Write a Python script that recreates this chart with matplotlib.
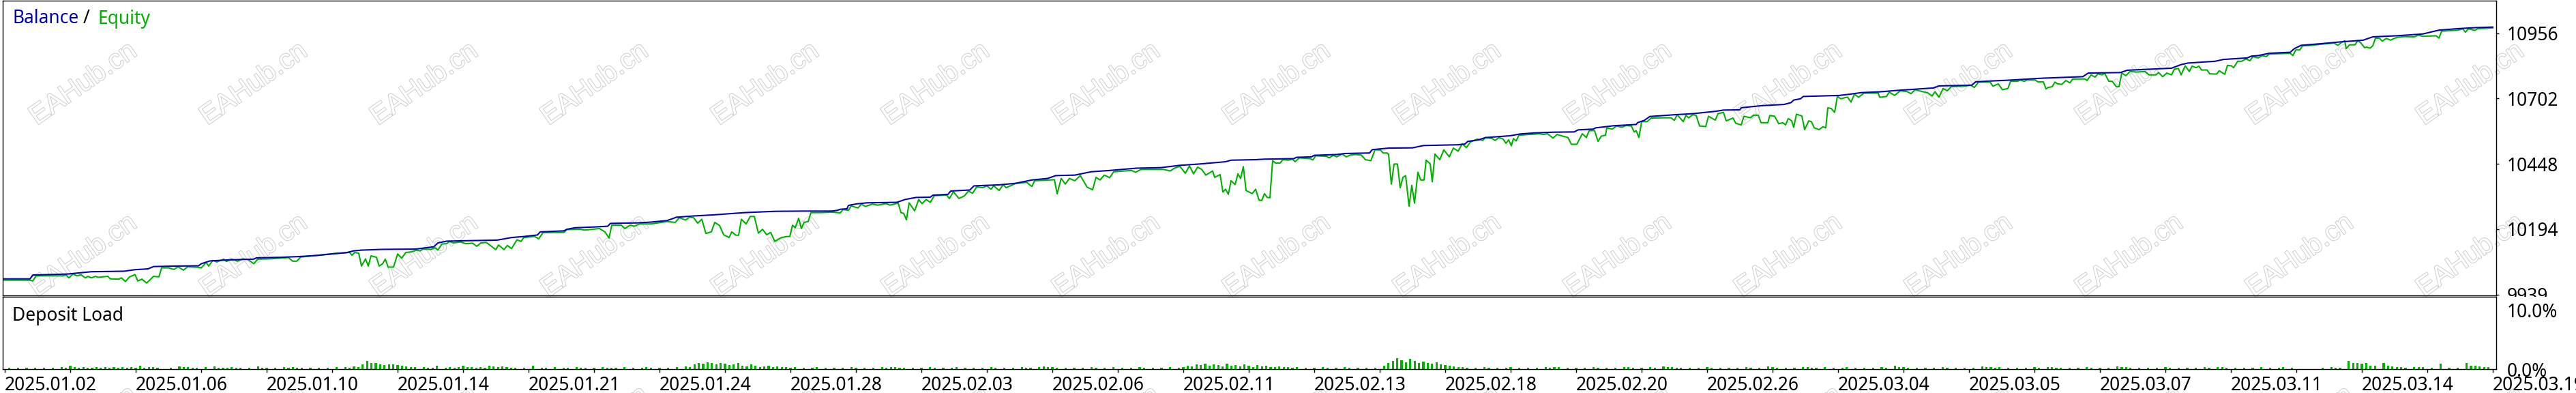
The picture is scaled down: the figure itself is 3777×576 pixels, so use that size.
import numpy as np
import matplotlib
matplotlib.use("Agg")
import matplotlib.pyplot as plt
import matplotlib.patheffects as pe
from matplotlib.transforms import Bbox, TransformedBbox

# balance curve (x = chart step, value = account currency)
bal_x = [2, 40, 44, 95, 130, 178, 194, 213, 221, 253, 287, 291, 304, 332, 368, 372, 407, 435, 459, 482, 506, 514, 526, 557, 605,
         632, 638, 651, 725, 746, 764, 784, 788, 823, 827, 839, 867, 887, 891, 930, 950, 974, 988, 1013, 1041, 1088, 1132, 1175, 1216,
         1224, 1228, 1238, 1240, 1252, 1267, 1311, 1323, 1339, 1360, 1364, 1386, 1390, 1418, 1424, 1461, 1485, 1509, 1532, 1544, 1572,
         1596, 1623, 1663, 1698, 1726, 1754, 1793, 1801,
         1836, 1850, 1893, 1897, 1919, 1923, 1956, 1968, 2004, 2008, 2032, 2067, 2083, 2134, 2144, 2148, 2164, 2174, 2210, 2225, 2245,
         2273, 2304, 2310, 2332, 2336, 2362, 2395, 2397, 2407, 2415,
         2452, 2478, 2511, 2523, 2547, 2549, 2578, 2612, 2622, 2626, 2636, 2640, 2693, 2709, 2725, 2752, 2780, 2831, 2839, 2887, 2893,
         2914, 2946, 2990, 3029, 3050,
         3056, 3058, 3105, 3115, 3180, 3188, 3194, 3204, 3244, 3256, 3291, 3297, 3307, 3323, 3354, 3360, 3370, 3402, 3426, 3461, 3475,
         3509, 3548, 3572, 3600, 3627, 3651]
bal_v = [10000, 10000, 10015, 10019, 10028, 10030, 10036, 10039, 10048, 10050, 10051, 10059, 10070, 10074, 10077, 10082, 10084,
         10087, 10091, 10097, 10103, 10109, 10112, 10115, 10116,
         10125, 10140, 10147, 10151, 10161, 10165, 10171, 10183, 10187, 10193, 10199, 10202, 10205, 10216, 10218, 10221, 10227, 10240,
         10245, 10249, 10258, 10263, 10264, 10264,
         10267, 10271, 10273, 10286, 10292, 10296, 10298, 10309, 10317, 10318, 10326, 10329, 10342, 10346, 10362, 10366, 10372, 10385,
         10391, 10402, 10404, 10417, 10422, 10431, 10433, 10442, 10447, 10456, 10462,
         10464, 10466, 10468, 10473, 10475, 10481, 10484, 10488, 10490, 10503, 10509, 10510, 10519, 10522, 10525, 10535, 10541, 10550,
         10557, 10564, 10568, 10571, 10572, 10580, 10583, 10588, 10596, 10601, 10608, 10617, 10632,
         10639, 10643, 10652, 10657, 10658, 10666, 10674, 10679, 10686, 10696, 10701, 10710, 10714, 10719, 10725, 10728, 10734, 10743,
         10751, 10754, 10767, 10770, 10774, 10781, 10785, 10787,
         10798, 10801, 10803, 10812, 10820, 10828, 10834, 10840, 10847, 10854, 10860, 10867, 10869, 10878, 10882, 10896, 10909, 10916,
         10922, 10929, 10942, 10946, 10953, 10968, 10974, 10978, 10980]

# equity curve
eq_x = [2, 40, 44, 49, 87, 93, 97, 103, 109, 115, 121, 125, 130, 136, 140, 146, 154, 158, 170, 174, 180, 186, 194, 198, 204,
        211, 217, 221, 229, 233, 243, 251, 257, 265, 271, 287, 291, 295, 298, 302, 308, 314, 324, 328, 336, 344, 352, 360, 368,
        374, 391, 407, 419, 425, 431, 437, 455, 470, 486, 502, 508, 512, 516, 522, 526, 532, 536, 540, 548, 552, 557, 561, 565,
        573, 579, 585, 591, 599, 607,
        612, 616, 628, 634, 638, 644, 651, 655, 661, 671, 679, 689, 695, 701, 709, 715, 723, 727, 735, 740, 746, 754, 760, 764,
        780, 786, 792, 823, 827, 847, 853, 875, 883, 889, 893, 907, 912, 920, 926, 934, 950, 974, 986, 992, 1001, 1007, 1013,
        1019, 1025, 1031, 1039, 1044, 1051, 1057, 1065, 1069, 1075, 1079, 1083, 1090, 1096, 1102, 1108, 1114, 1120, 1126, 1132,
        1142, 1150, 1154, 1158, 1162, 1167, 1171, 1175, 1181, 1185, 1199, 1216,
        1228, 1232, 1240, 1244, 1254, 1259, 1265, 1275, 1283, 1295, 1301, 1313, 1317, 1321, 1325, 1329, 1337, 1343, 1348, 1354,
        1360, 1366, 1384, 1388, 1394, 1402, 1410, 1416, 1422, 1428, 1437, 1443, 1449, 1453, 1461, 1467, 1471, 1485, 1501, 1509,
        1513, 1542, 1546, 1552, 1558, 1564, 1572, 1580, 1590, 1598, 1603, 1609, 1615, 1623, 1629, 1655, 1661, 1669, 1702, 1712,
        1718, 1726, 1734, 1740, 1746, 1752, 1758, 1764, 1774, 1777, 1785, 1789, 1793, 1797, 1801, 1807, 1811, 1815, 1819, 1823,
        1832, 1837, 1842, 1846, 1850, 1854, 1858, 1862, 1866, 1873, 1877, 1885, 1891, 1895, 1901, 1917, 1921, 1925, 1941, 1945,
        1951, 1956, 1964, 1970, 1976, 1984, 1992, 1998, 2006, 2012, 2020, 2024, 2030, 2032, 2036, 2040, 2045, 2049, 2053, 2057,
        2062, 2066, 2070, 2075, 2079, 2084, 2087, 2093, 2096, 2100, 2107, 2113, 2121, 2127, 2134, 2140, 2146, 2152, 2162, 2170,
        2174, 2184, 2188, 2194, 2200, 2204, 2208, 2212, 2215, 2219, 2223, 2237, 2245, 2253, 2259, 2265, 2273, 2279, 2287, 2295,
        2300, 2308, 2316, 2322, 2326, 2334, 2339, 2344, 2350, 2352, 2360, 2366, 2374, 2380, 2388, 2392, 2395, 2399, 2403, 2411,
        2417, 2436,
        2446, 2451, 2455, 2464, 2468, 2472, 2478, 2483, 2488, 2497, 2501, 2511, 2515, 2523, 2527, 2537, 2541, 2549, 2553, 2563,
        2567, 2574, 2578, 2588, 2591, 2598, 2604, 2610, 2614, 2618, 2623, 2626, 2630, 2638, 2642, 2648, 2652, 2656, 2663, 2669,
        2673, 2676, 2681, 2686, 2690, 2695, 2701, 2705, 2710, 2715, 2721, 2729, 2750, 2752, 2762, 2766, 2774, 2782, 2792, 2798,
        2804, 2816, 2822, 2829, 2833, 2839, 2845, 2851, 2857, 2879, 2885, 2891, 2897, 2914, 2918, 2926, 2932, 2940, 2944, 2954,
        2958, 2964, 2968, 2980, 2984, 2992, 2996, 2999, 3005, 3009, 3013, 3019, 3025, 3031, 3035, 3053,
        3056, 3062, 3068, 3072, 3078, 3082, 3088, 3093, 3099, 3103, 3107, 3113, 3119, 3129, 3141, 3147, 3157, 3161, 3167, 3173,
        3180, 3184, 3190, 3194, 3200, 3206, 3210, 3216, 3220, 3224, 3232, 3236, 3246, 3250, 3258, 3262, 3268, 3271, 3277, 3283,
        3289, 3295, 3299, 3307, 3313, 3319, 3323, 3354, 3358, 3362, 3368, 3372, 3386, 3398, 3410, 3418, 3424, 3428, 3434, 3436,
        3441, 3449, 3453, 3457, 3463, 3466, 3471, 3475, 3479, 3485, 3489, 3495, 3501, 3505, 3511, 3521, 3536, 3542, 3548, 3568,
        3572, 3576, 3600, 3607, 3611, 3615, 3619, 3625, 3629, 3639, 3651]
eq_v = [9995, 9995, 9992, 10012, 10012, 10015, 10004, 10019, 10012, 10016, 10004, 10010, 10004, 10010, 10006, 10008, 10010,
        10000, 9999, 10004, 9990, 10008, 10017, 9992, 9999, 9984, 9999, 10010, 10008, 10043, 10043, 10037, 10047, 10034, 10047,
        10045, 10043, 10054, 10065, 10050, 10072, 10066, 10077, 10068, 10077, 10069, 10078, 10075, 10059, 10077, 10078, 10081,
        10083, 10069, 10069, 10085, 10090, 10094, 10099, 10101, 10105, 10092, 10103, 10100, 10050, 10078, 10050, 10090, 10084,
        10050, 10059, 10077, 10046, 10046, 10097, 10081, 10103, 10105, 10112,
        10109, 10116, 10115, 10121, 10112, 10136, 10137, 10146, 10140, 10144, 10137, 10139, 10127, 10140, 10142, 10130, 10114,
        10132, 10114, 10130, 10118, 10152, 10146, 10161, 10165, 10156, 10180, 10181, 10192, 10193, 10190, 10196, 10183, 10159,
        10209, 10209, 10196, 10209, 10205, 10214, 10214, 10223, 10220, 10238, 10229, 10240, 10238, 10217, 10232, 10177, 10183,
        10220, 10208, 10172, 10161, 10183, 10170, 10170, 10232, 10214, 10243, 10243, 10178, 10193, 10172, 10181, 10146, 10161,
        10165, 10165, 10209, 10199, 10236, 10196, 10220, 10223, 10258, 10258, 10260,
        10257, 10270, 10267, 10284, 10276, 10291, 10282, 10291, 10287, 10293, 10287, 10295, 10258, 10255, 10230, 10296, 10265,
        10309, 10293, 10309, 10298, 10324, 10326, 10313, 10339, 10313, 10323, 10342, 10333, 10358, 10355, 10362, 10349, 10362,
        10344, 10367, 10355, 10371, 10376, 10360, 10382, 10386, 10331, 10391, 10369, 10391, 10382, 10402, 10357, 10347, 10395,
        10385, 10404, 10394, 10417, 10422, 10415, 10426, 10426, 10420, 10431, 10438, 10411, 10440, 10409, 10435, 10426, 10404,
        10420, 10395, 10406, 10338, 10349, 10329, 10382, 10367, 10409, 10391, 10437, 10344,
        10332, 10349, 10307, 10305, 10332, 10317, 10316, 10460, 10451, 10451, 10464, 10462, 10466, 10456, 10471, 10468, 10463,
        10479, 10477, 10471, 10481, 10475, 10486, 10475, 10482, 10484, 10482, 10464, 10460, 10502, 10502, 10490, 10490, 10484,
        10369, 10447, 10447, 10355, 10395, 10402, 10283, 10364, 10295, 10415, 10385, 10385, 10462, 10448, 10378, 10486, 10464,
        10502, 10475, 10509, 10497, 10526, 10511, 10533, 10544, 10539, 10550, 10546, 10539, 10550, 10544, 10528, 10541, 10518,
        10546, 10537, 10559, 10562, 10563, 10565, 10562, 10565, 10548, 10562, 10556, 10550, 10524, 10524, 10565, 10550, 10577,
        10577, 10535, 10556, 10559, 10588, 10583, 10595, 10590, 10597, 10595, 10572, 10577, 10550, 10612, 10612, 10626, 10627,
        10627, 10617, 10639, 10612, 10636, 10627, 10639, 10636, 10595, 10593, 10633, 10618, 10643, 10648, 10615, 10626, 10606,
        10599, 10633, 10627, 10637, 10637, 10608, 10608, 10636, 10633, 10604, 10608, 10599, 10624, 10615, 10590, 10641, 10634,
        10581, 10615, 10612, 10588, 10581, 10592, 10588, 10666, 10663, 10648, 10710, 10701, 10705, 10707, 10688, 10719, 10707,
        10723, 10723, 10707, 10710, 10727, 10714, 10732, 10729, 10721, 10736, 10728, 10725, 10712, 10728, 10707, 10741, 10732,
        10748, 10751, 10754, 10745, 10766, 10766, 10750, 10759, 10736, 10741, 10769, 10769, 10774, 10769, 10774, 10774, 10767,
        10767, 10739, 10745, 10748, 10766, 10759, 10757, 10772, 10763, 10778, 10778,
        10772, 10794, 10785, 10798, 10794, 10800, 10769, 10769, 10748, 10748, 10801, 10791, 10807, 10805, 10807, 10794, 10794,
        10803, 10787, 10801, 10794, 10816, 10819, 10794, 10829, 10807, 10828, 10822, 10828, 10813, 10813, 10798, 10797, 10810,
        10796, 10831, 10829, 10822, 10847, 10847, 10856, 10849, 10865, 10860, 10869, 10865, 10875, 10878, 10869, 10891, 10891,
        10907, 10909, 10913, 10916, 10918, 10909, 10918, 10927, 10896, 10911, 10911, 10927, 10920, 10900, 10902, 10898, 10907,
        10937, 10936, 10925, 10936, 10929, 10934, 10940, 10943, 10942, 10949, 10944, 10946, 10937, 10964, 10968, 10973, 10960,
        10973, 10971, 10967, 10974, 10975, 10977]

# deposit load, percent per slot
load_pct = [
    0, 0.2, 0, 0.2, 0, 0.2, 0, 0.2, 0, 0.2, 0, 0.2, 0, 0.3, 0.2, 0.6, 0.4, 0.2, 0.3, 0.2, 0.2, 0.3, 0.2, 0.3, 0.2,
    0.3, 0.2, 0.3, 0.2, 0.4, 0.2, 0.6, 0.2, 0.4, 0.3, 0.2, 0, 0, 0.2, 0, 0.5, 0.4, 0.4, 0.2, 0.2, 0, 0.3, 0, 0.5, 0.2,
    0.2, 0.2, 0.3, 0.2, 0.2, 0, 0.2, 0, 0.5, 0.2, 0.2, 0, 0.2, 0, 0.3, 0.2, 0.3, 0.2, 0.2, 0, 0.2, 0, 0.2, 0, 0.2,
    0, 0.3, 0, 0.3, 0.2, 0.5, 0.3, 0.8, 1.4, 1.0, 1.0, 0.8, 0.7, 0.8, 0.8, 0.7, 0.6, 0.5, 0.4, 0.3, 0, 0.3, 0.2, 0.2, 0.6,
    0, 0.2, 0.3, 0.2, 0.3, 0.6, 0.4, 0.3, 0.2, 0.3, 0.2, 0.6, 0.5, 0.4, 0.5, 0.3, 0.2, 0.2, 0, 0.2, 0, 0.6, 0, 0.2, 0.2,
    0, 0.3, 0, 0.2, 0.2, 0, 0.4, 0.2, 0.2, 0, 0.2, 0, 0.3, 0.2, 0.2, 0.2, 0, 0.3, 0, 0.2, 0, 0.2, 0.3, 0.2, 0,
    0.2, 0, 0.2, 0, 0.3, 0, 0.5, 0.4, 0.8, 1.0, 0.9, 1.2, 1.0, 0.8, 1.1, 0.9, 0.7, 0.8, 1.0, 0.6, 0.5, 0.8, 0.6, 0.4, 0.5,
    0.6, 0.4, 0.5, 0.3, 0.4, 0.2, 0.3, 0, 0.2, 0, 0.2, 0.3, 0, 0.2, 0, 0.2, 0, 0.2, 0, 0.3, 0.2, 0, 0.2, 0, 0.2,
    0, 0.3, 0.2, 0.4, 0.3, 0.2, 0.2, 0, 0.2, 0, 0.2, 0, 0.3, 0.2, 0, 0.2, 0, 0.2, 0.3, 0, 0.2, 0, 0.2, 0, 0.2,
    0, 0.3, 0.2, 0, 0.2, 0, 0.2, 0, 0.3, 0.2, 0.2, 0, 0.3, 0.5, 0.4, 0.3, 0.2, 0, 0.2, 0, 0.2, 0, 0.2, 0, 0.3,
    0.2, 0, 0.2, 0, 0.3, 0, 0.2, 0, 0.2, 0, 0.3, 0.2, 0, 0.2, 0, 0.2, 0, 0.3, 0, 0.2, 0.4, 0.6, 0.5, 0.8, 0.7,
    0.9, 0.6, 0.8, 0.7, 0.5, 0.9, 0.6, 0.7, 0.5, 0.8, 0.6, 0.4, 0.7, 0.5, 0.6, 0.4, 0.3, 0.5, 0.4, 0.3, 0.2, 0.3, 0, 0.2, 0,
    0.2, 0, 0.3, 0.2, 0, 0.2, 0, 0.3, 0.2, 0, 0.2, 0, 0.2, 0, 0.2, 0, 0.6, 1.0, 1.4, 1.8, 1.5, 1.2, 1.7, 1.4, 1.1,
    1.3, 1.0, 0.9, 1.2, 0.8, 0.7, 0.6, 0.5, 0.4, 0.3, 0.2, 0, 0.2, 0, 0.3, 0.2, 0, 0.2, 0, 0.2, 0.3, 0, 0.2, 0, 0.2,
    0, 0.2, 0, 0.3, 0.2, 0.4, 0.3, 0, 0.2, 0, 0.2, 0, 0.2, 0, 0.3, 0.2, 0, 0.2, 0, 0.2, 0, 0.4, 0.3, 0.2, 0,
    0.2, 0, 0.3, 0.2, 0, 0.5, 0.4, 0.3, 0.2, 0.2, 0, 0.2, 0, 0.2, 0, 0.3, 0.2, 0, 0.2, 0, 0.2, 0, 0.2, 0, 0.3,
    0.2, 0, 0.2, 0, 0.5, 0.3, 0.2, 0, 0.2, 0, 0.2, 0, 0.4, 0.3, 0.2, 0.2, 0, 0.3, 0, 0.2, 0, 0.2, 0.3, 0, 0.2,
    0, 0.2, 0, 0.2, 0, 0.3, 0.2, 0, 0.6, 0.4, 0.3, 0.2, 0, 0.2, 0, 0.2, 0, 0.2, 0, 0.3, 0.2, 0, 0.2, 0, 0.2,
    0, 0.2, 0, 0.5, 0.4, 0.3, 0.2, 0.3, 0, 0.2, 0, 0.2, 0, 0.2, 0, 0.3, 0.2, 0, 0.4, 0.3, 0.2, 0.2, 0, 0.2, 0,
    0.2, 0, 0.3, 0.2, 0, 0.2, 0, 0.2, 0, 0.5, 0.4, 0.3, 0.2, 0, 0.2, 0, 0.2, 0, 0.2, 0, 0.3, 0.2, 0, 0.2, 0,
    0.2, 0, 0.2, 0, 0.3, 0.2, 0, 0.4, 0.3, 0.2, 0, 0.2, 0, 0.2, 0, 0.2, 0, 0.3, 0, 0.2, 0, 0.2, 0.3, 0, 0.2,
    0, 0, 0, 0, 0, 0, 0.2, 0, 0.3, 0.2, 0.2, 0, 1.4, 1.0, 1.0, 0.9, 1.0, 0.6, 0.6, 0, 1.0, 0.6, 0.5, 0.3, 0.3,
    0.2, 0, 0.4, 0.3, 0.3, 0, 0.2, 0, 0.9, 0, 0.2, 0, 0.2, 0, 1.0, 0.6, 0.6, 0.5, 0.3, 0.3, 0,
]

bal_ticks = [9939, 10194, 10448, 10702, 10956]
date_labels = ['2025.01.02', '2025.01.06', '2025.01.10', '2025.01.14', '2025.01.21', '2025.01.24', '2025.01.28',
               '2025.02.03', '2025.02.06', '2025.02.11', '2025.02.13', '2025.02.18', '2025.02.20', '2025.02.26',
               '2025.03.04', '2025.03.05', '2025.03.07', '2025.03.11', '2025.03.14', '2025.03.19']

W, H = 3777, 576
BLUE = '#0000B4'
GREEN = '#00B000'
FS = 19

plt.rcParams['font.family'] = ['Noto Sans', 'DejaVu Sans']
plt.rcParams['font.size'] = FS

fig = plt.figure(figsize=(W / 100, H / 100), dpi=100)


def box(left, top, right, bottom):
    return [left / W, 1 - bottom / H, (right - left) / W, (bottom - top) / H]


# watermark behind everything
for row_y in (123, 375, 627):
    for k in range(-1, 16):
        fig.text((122 + 250 * k) / W, 1 - row_y / H, 'EAHub.cn', rotation=35, rotation_mode='anchor',
                 ha='center', va='center', fontsize=29, family='Liberation Sans', color='white', zorder=-1,
                 path_effects=[pe.withStroke(linewidth=1.4, foreground='#CDCDCD')])

ax = fig.add_axes(box(4, 0.7, 3660, 433))
ax2 = fig.add_axes(box(4, 435, 3660, 541))
for a in (ax, ax2):
    a.set_facecolor('none')
    for s in a.spines.values():
        s.set_linewidth(1.0)
    a.set_xlim(0, 3656)

# Balance / Equity
ax.plot(eq_x, eq_v, color=GREEN, lw=1.5)
ax.plot(bal_x, bal_v, color=BLUE, lw=1.5)
ax.set_ylim(9935.7, 11083.5)
ax.set_xticks([])
ax.yaxis.tick_right()
ax.set_yticks(bal_ticks)
ax.set_yticklabels([str(v) for v in bal_ticks])
ax.tick_params(axis='y', direction='out', length=3, width=1, pad=8, labelsize=FS)
clip = TransformedBbox(Bbox([[0, 1 - 435 / H], [1, 1]]), fig.transFigure)
for t in ax.yaxis.get_major_ticks():
    t.label2.set_clip_box(clip)

fig.text(18 / W, 1 - 34.5 / H, 'Balance', color=BLUE, fontsize=FS, va='baseline')
fig.text(122 / W, 1 - 34.5 / H, '/', color='black', fontsize=FS, va='baseline')
fig.text(143.5 / W, 1 - 34.5 / H, 'Equity', color=GREEN, fontsize=FS, va='baseline')

# Deposit load
slots = np.arange(len(load_pct))
ax2.bar(3 + slots * 6.4, load_pct, width=3.2, color=GREEN, linewidth=0)
ax2.set_ylim(0, 12.3)
ax2.yaxis.tick_right()
ax2.set_yticks([0, 10])
ax2.set_yticklabels(['0.0%', '10.0%'])
ax2.tick_params(axis='y', length=0, pad=11, labelsize=FS)
ax2.set_xticks([3 + 192 * k for k in range(len(date_labels))])
ax2.set_xticklabels(date_labels, ha='left')
ax2.set_xticks([99 + 192 * k for k in range(len(date_labels) - 1)], minor=True)
ax2.tick_params(axis='x', which='both', direction='out', length=3.4, width=1, pad=4, labelsize=FS)
fig.text(18 / W, 1 - 470 / H, 'Deposit Load', color='black', fontsize=FS, va='baseline')

fig.savefig('out.png', dpi=100, facecolor='white')
